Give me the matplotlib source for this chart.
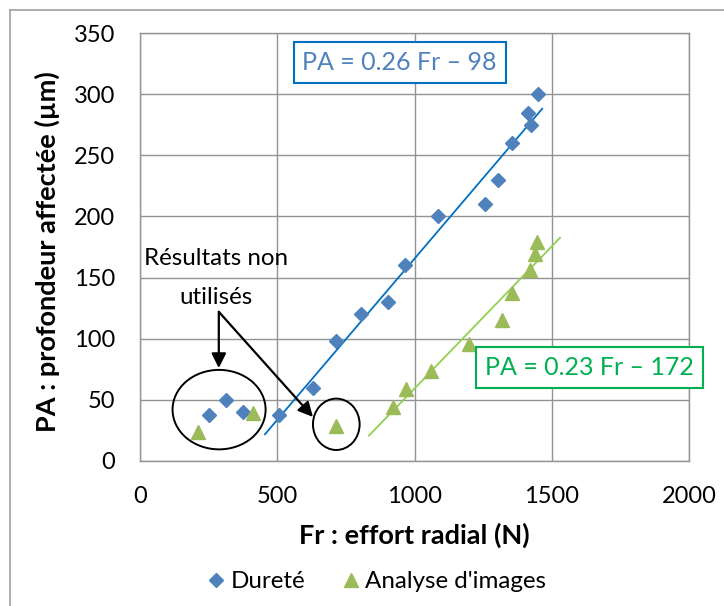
import numpy as np
import matplotlib
matplotlib.use("Agg")
import matplotlib.pyplot as plt
from matplotlib.patches import Ellipse
from matplotlib.lines import Line2D

plt.rcParams['font.family'] = ['Lato', 'DejaVu Sans']

# Dureté (diamonds)
durete_fr = [250, 315, 375, 505, 630, 715, 805, 905, 965, 1085, 1255, 1305, 1355, 1415, 1425, 1450]
durete_pa = [38, 50, 40, 38, 60, 98, 120, 130, 160, 200, 210, 230, 260, 285, 275, 300]

# Analyse d'images (triangles)
image_fr = [210, 410, 715, 920, 970, 1060, 1200, 1320, 1355, 1420, 1440, 1445]
image_pa = [24, 39, 29, 44, 59, 74, 96, 115, 137, 156, 169, 179]

# points kept for the fits (the circled ones are left out)
durete_used = [i for i in range(len(durete_fr)) if durete_fr[i] >= 500]
image_used = [i for i in range(len(image_fr)) if image_fr[i] >= 900]

blue = '#4F81BD'
green = '#9BBB59'

fig = plt.figure(figsize=(7.24, 6.06), dpi=100)
ax = fig.add_axes([0.1934, 0.2393, 0.7583, 0.7062])

ax.set_xlim(0, 2000)
ax.set_ylim(0, 350)
ax.set_xticks(np.arange(0, 2001, 500))
ax.set_yticks(np.arange(0, 351, 50))
ax.grid(True, color='#939393', lw=1.0)
ax.set_axisbelow(True)
for s in ax.spines.values():
	s.set_color('#939393')
	s.set_linewidth(1.0)
ax.tick_params(length=0, labelsize=17, pad=18)

# trend lines
pb = np.polyfit(np.array(durete_fr)[durete_used], np.array(durete_pa)[durete_used], 1)
pg = np.polyfit(np.array(image_fr)[image_used], np.array(image_pa)[image_used], 1)
xb = np.array([455, 1465])
xg = np.array([834, 1530])
ax.plot(xb, np.polyval(pb, xb), color='#0070C0', lw=1.3, zorder=2)
ax.plot(xg, np.polyval(pg, xg), color='#92D050', lw=1.3, zorder=2)

ax.plot(durete_fr, durete_pa, ls='none', marker='D', ms=6.8, color=blue, zorder=3)
ax.plot(image_fr, image_pa, ls='none', marker='^', ms=9.5, color=green, zorder=3)

# circles round unused results
ax.add_patch(Ellipse((288, 42), 339, 65, fill=False, ec='black', lw=1.4, zorder=4))
ax.add_patch(Ellipse((715, 30), 170, 42, fill=False, ec='black', lw=1.4, zorder=4))

ax.text(276, 166, 'Résultats non', ha='center', va='center', fontsize=17.4)
ax.text(276, 134, 'utilisés', ha='center', va='center', fontsize=17.4)
arr = dict(arrowstyle='-|>', color='black', lw=1.6, mutation_scale=22, shrinkA=0, shrinkB=0)
ax.annotate('', xy=(287, 76), xytext=(287, 122), arrowprops=arr)
ax.annotate('', xy=(630, 36), xytext=(287, 122), arrowprops=arr)

# equation boxes
ax.text(0.473, 0.931, 'PA = 0.26 Fr \u2013 98', transform=ax.transAxes, ha='center', va='center',
	fontsize=18, color='#4F81BD',
	bbox=dict(boxstyle='square,pad=0.35', fc='white', ec='#0070C0', lw=1.5))
ax.text(0.819, 0.218, 'PA = 0.23 Fr \u2013 172', transform=ax.transAxes, ha='center', va='center',
	fontsize=18, color='#00B050',
	bbox=dict(boxstyle='square,pad=0.35', fc='white', ec='#00B050', lw=1.5))

fig.text(0.572, 0.117, 'Fr : effort radial (N)', ha='center', va='center', fontsize=19.5, fontweight='bold')
fig.text(0.065, 0.584, 'PA : profondeur affectée (µm)', ha='center', va='center', rotation=90,
	fontsize=19.5, fontweight='bold')

handles = [Line2D([], [], ls='none', marker='D', ms=6.8, color=blue),
	   Line2D([], [], ls='none', marker='^', ms=9.5, color=green)]
fig.legend(handles, ['Dureté', "Analyse d'images"], loc='center', bbox_to_anchor=(0.518, 0.04),
	   ncol=2, frameon=False, fontsize=17.4, handletextpad=0.1, columnspacing=1.4, handlelength=1.0)

# outer chart frame (only top/left visible)
fig.add_artist(Line2D([10/724, 1], [1-10/606, 1-10/606], transform=fig.transFigure, color='#a0a0a0', lw=1.2))
fig.add_artist(Line2D([10/724, 10/724], [0, 1-10/606], transform=fig.transFigure, color='#a0a0a0', lw=1.2))

fig.savefig('out.png', dpi=100)
